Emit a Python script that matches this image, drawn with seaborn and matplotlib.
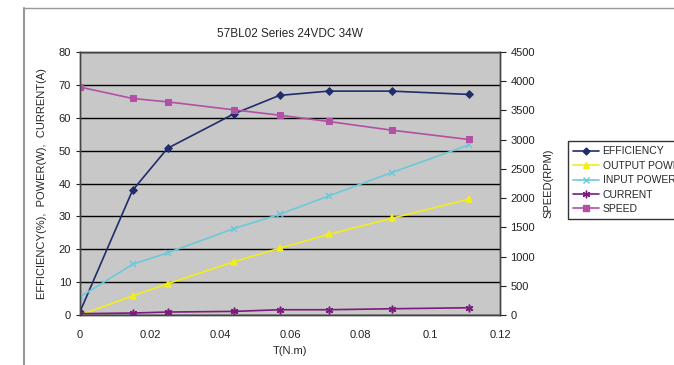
import numpy as np
import pandas as pd
import seaborn as sns
import matplotlib.pyplot as plt
from matplotlib.lines import Line2D

# values
torque = [0.0, 0.015, 0.025, 0.044, 0.057, 0.071, 0.089, 0.111]
efficiency = [1.0, 37.9, 50.7, 61.2, 66.8, 68.1, 68.1, 67.1]
output_power = [0.0, 5.8, 9.5, 16.2, 20.3, 24.5, 29.4, 35.2]
input_power = [5.5, 15.4, 18.9, 26.3, 30.6, 36.2, 43.3, 51.7]
current = [0.4, 0.6, 0.9, 1.1, 1.6, 1.6, 1.9, 2.2]
speed = [3900, 3705, 3647, 3510, 3419, 3311, 3163, 3004]

left_series = [
    ("EFFICIENCY", efficiency, "#1f2d6b", "D", 3.5),
    ("OUTPUT POWER", output_power, "#f2ee1c", "^", 4.5),
    ("INPUT POWER", input_power, "#6cc9da", "x", 4.5),
    ("CURRENT", current, "#7d1a7d", (6, 2, 0), 5.5),
]

sns.set_style("white")
plt.rcParams["font.family"] = ["Liberation Sans", "DejaVu Sans"]

fig = plt.figure(figsize=(6.74, 3.65), dpi=100)
ax = fig.add_axes([80 / 674, 1 - 315 / 365, 420 / 674, 263 / 365])
ax.set_facecolor("#c8c8c8")

handles = []
for name, vals, col, mk, ms in left_series:
    df = pd.DataFrame({"T": torque, "v": vals})
    sns.lineplot(data=df, x="T", y="v", ax=ax, color=col, marker=mk,
                 markersize=ms, markeredgecolor=col, markeredgewidth=1.1,
                 linewidth=1.2, zorder=3)
    handles.append(Line2D([], [], color=col, marker=mk, markersize=ms,
                          markeredgecolor=col, linewidth=1.2, label=name))

ax2 = ax.twinx()
spd = pd.DataFrame({"T": torque, "v": speed})
sns.lineplot(data=spd, x="T", y="v", ax=ax2, color="#b150a5", marker="s",
             markersize=4, markeredgecolor="#b150a5", linewidth=1.2)
handles.append(Line2D([], [], color="#b150a5", marker="s", markersize=4,
                      linewidth=1.2, label="SPEED"))

ax.set_xlim(0, 0.12)
ax.set_ylim(0, 80)
ax2.set_ylim(0, 4500)
ax.set_xticks(np.arange(0, 0.121, 0.02))
ax.set_xticklabels(["0", "0.02", "0.04", "0.06", "0.08", "0.1", "0.12"])
ax.set_yticks(np.arange(0, 81, 10))
ax2.set_yticks(np.arange(0, 4501, 500))

for a in (ax, ax2):
    for s in a.spines.values():
        s.set_color("#444444")
        s.set_linewidth(1.0)
ax.yaxis.grid(True, color="black", linewidth=1.0)
ax.set_axisbelow(True)
ax.tick_params(axis="x", direction="in", length=4, labelsize=8, pad=11,
               colors="#222222")
ax.tick_params(axis="y", direction="out", length=3, labelsize=8,
               colors="#222222")
ax2.tick_params(axis="y", direction="out", length=4, labelsize=8,
                colors="#222222")

ax.set_xlabel("T(N.m)", fontsize=8, labelpad=4)
ax.set_ylabel("EFFICIENCY(%),  POWER(W),  CURRENT(A)", fontsize=8, labelpad=8)
ax2.set_ylabel("SPEED(RPM)", fontsize=8, labelpad=6)
ax.set_title("57BL02 Series 24VDC 34W", fontsize=8.5, pad=11)

leg = fig.legend(handles=handles, loc="upper left",
                 bbox_to_anchor=(563 / 674, 1 - 136 / 365), fontsize=7.5,
                 frameon=True, fancybox=False, edgecolor="black",
                 handlelength=2.5, borderpad=0.5, labelspacing=0.42,
                 handletextpad=0.3)
leg.get_frame().set_linewidth(1.0)

# page border lines from the scanned document
fig.add_artist(Line2D([24 / 674, 24 / 674], [0, 1 - 8 / 365],
                      color="#999999", linewidth=1.5))
fig.add_artist(Line2D([24 / 674, 1], [1 - 8 / 365, 1 - 8 / 365],
                      color="#999999", linewidth=1.0))

fig.savefig("out.png", dpi=100)
